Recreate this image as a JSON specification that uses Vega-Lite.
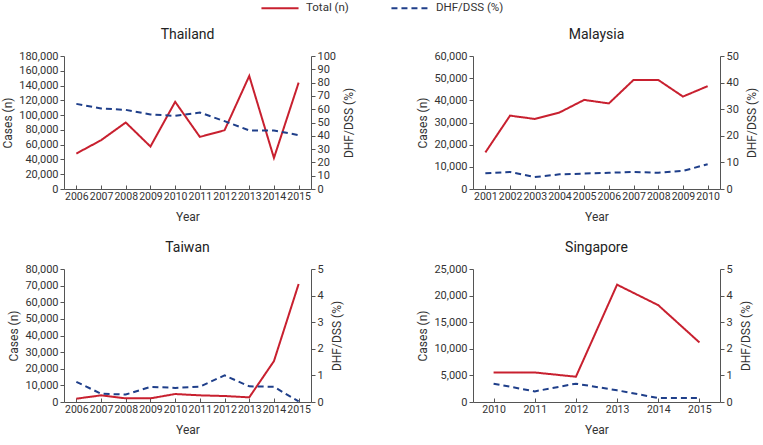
{
  "$schema": "https://vega.github.io/schema/vega-lite/v6.json",
  "background": "white",
  "padding": {"left": 1, "top": 2, "right": 2, "bottom": 2},
  "config": {
    "font": "Roboto",
    "view": {"stroke": null},
    "axis": {"grid": false, "domainColor": "#555", "tickColor": "#555", "labelColor": "#333", "titleColor": "#333", "labelFontSize": 10.5, "titleFontSize": 12, "titleFontWeight": "normal", "tickSize": 4},
    "axisLeft": {"titlePadding": 4, "labelFontSize": 11},
    "axisRight": {"labelFontSize": 11, "titlePadding": 8},
    "axisBottom": {"titlePadding": 10},
    "title": {"fontSize": 14, "fontWeight": "normal", "color": "#222", "offset": 8},
    "line": {"strokeWidth": 2}
  },
  "spacing": {"row": 18, "column": 61},
  "columns": 2,
  "datasets": {
    "d": [
      {"c": "Thailand", "year": 2006, "s": "Total (n)", "v": 48000},
      {"c": "Thailand", "year": 2007, "s": "Total (n)", "v": 66000},
      {"c": "Thailand", "year": 2008, "s": "Total (n)", "v": 90000},
      {"c": "Thailand", "year": 2009, "s": "Total (n)", "v": 57500},
      {"c": "Thailand", "year": 2010, "s": "Total (n)", "v": 118000},
      {"c": "Thailand", "year": 2011, "s": "Total (n)", "v": 70500},
      {"c": "Thailand", "year": 2012, "s": "Total (n)", "v": 79500},
      {"c": "Thailand", "year": 2013, "s": "Total (n)", "v": 153000},
      {"c": "Thailand", "year": 2014, "s": "Total (n)", "v": 42000},
      {"c": "Thailand", "year": 2015, "s": "Total (n)", "v": 144000},
      {"c": "Thailand", "year": 2006, "s": "DHF/DSS (%)", "v": 64},
      {"c": "Thailand", "year": 2007, "s": "DHF/DSS (%)", "v": 60.5},
      {"c": "Thailand", "year": 2008, "s": "DHF/DSS (%)", "v": 59.5},
      {"c": "Thailand", "year": 2009, "s": "DHF/DSS (%)", "v": 56},
      {"c": "Thailand", "year": 2010, "s": "DHF/DSS (%)", "v": 55},
      {"c": "Thailand", "year": 2011, "s": "DHF/DSS (%)", "v": 57.5},
      {"c": "Thailand", "year": 2012, "s": "DHF/DSS (%)", "v": 51},
      {"c": "Thailand", "year": 2013, "s": "DHF/DSS (%)", "v": 44},
      {"c": "Thailand", "year": 2014, "s": "DHF/DSS (%)", "v": 44},
      {"c": "Thailand", "year": 2015, "s": "DHF/DSS (%)", "v": 40.5},
      {"c": "Malaysia", "year": 2001, "s": "Total (n)", "v": 16500},
      {"c": "Malaysia", "year": 2002, "s": "Total (n)", "v": 33100},
      {"c": "Malaysia", "year": 2003, "s": "Total (n)", "v": 31600},
      {"c": "Malaysia", "year": 2004, "s": "Total (n)", "v": 34500},
      {"c": "Malaysia", "year": 2005, "s": "Total (n)", "v": 40200},
      {"c": "Malaysia", "year": 2006, "s": "Total (n)", "v": 38600},
      {"c": "Malaysia", "year": 2007, "s": "Total (n)", "v": 49200},
      {"c": "Malaysia", "year": 2008, "s": "Total (n)", "v": 49200},
      {"c": "Malaysia", "year": 2009, "s": "Total (n)", "v": 41700},
      {"c": "Malaysia", "year": 2010, "s": "Total (n)", "v": 46400},
      {"c": "Malaysia", "year": 2001, "s": "DHF/DSS (%)", "v": 5.9},
      {"c": "Malaysia", "year": 2002, "s": "DHF/DSS (%)", "v": 6.4},
      {"c": "Malaysia", "year": 2003, "s": "DHF/DSS (%)", "v": 4.5},
      {"c": "Malaysia", "year": 2004, "s": "DHF/DSS (%)", "v": 5.5},
      {"c": "Malaysia", "year": 2005, "s": "DHF/DSS (%)", "v": 5.8},
      {"c": "Malaysia", "year": 2006, "s": "DHF/DSS (%)", "v": 6.1},
      {"c": "Malaysia", "year": 2007, "s": "DHF/DSS (%)", "v": 6.4},
      {"c": "Malaysia", "year": 2008, "s": "DHF/DSS (%)", "v": 6.1},
      {"c": "Malaysia", "year": 2009, "s": "DHF/DSS (%)", "v": 6.8},
      {"c": "Malaysia", "year": 2010, "s": "DHF/DSS (%)", "v": 9.3},
      {"c": "Taiwan", "year": 2006, "s": "Total (n)", "v": 2000},
      {"c": "Taiwan", "year": 2007, "s": "Total (n)", "v": 4000},
      {"c": "Taiwan", "year": 2008, "s": "Total (n)", "v": 2200},
      {"c": "Taiwan", "year": 2009, "s": "Total (n)", "v": 2200},
      {"c": "Taiwan", "year": 2010, "s": "Total (n)", "v": 4800},
      {"c": "Taiwan", "year": 2011, "s": "Total (n)", "v": 4000},
      {"c": "Taiwan", "year": 2012, "s": "Total (n)", "v": 3600},
      {"c": "Taiwan", "year": 2013, "s": "Total (n)", "v": 2800},
      {"c": "Taiwan", "year": 2014, "s": "Total (n)", "v": 24600},
      {"c": "Taiwan", "year": 2015, "s": "Total (n)", "v": 71000},
      {"c": "Taiwan", "year": 2006, "s": "DHF/DSS (%)", "v": 0.76},
      {"c": "Taiwan", "year": 2007, "s": "DHF/DSS (%)", "v": 0.31},
      {"c": "Taiwan", "year": 2008, "s": "DHF/DSS (%)", "v": 0.28},
      {"c": "Taiwan", "year": 2009, "s": "DHF/DSS (%)", "v": 0.57},
      {"c": "Taiwan", "year": 2010, "s": "DHF/DSS (%)", "v": 0.53},
      {"c": "Taiwan", "year": 2011, "s": "DHF/DSS (%)", "v": 0.58},
      {"c": "Taiwan", "year": 2012, "s": "DHF/DSS (%)", "v": 1.0},
      {"c": "Taiwan", "year": 2013, "s": "DHF/DSS (%)", "v": 0.59},
      {"c": "Taiwan", "year": 2014, "s": "DHF/DSS (%)", "v": 0.57},
      {"c": "Taiwan", "year": 2015, "s": "DHF/DSS (%)", "v": 0.02},
      {"c": "Singapore", "year": 2010, "s": "Total (n)", "v": 5550},
      {"c": "Singapore", "year": 2011, "s": "Total (n)", "v": 5550},
      {"c": "Singapore", "year": 2012, "s": "Total (n)", "v": 4750},
      {"c": "Singapore", "year": 2013, "s": "Total (n)", "v": 22050},
      {"c": "Singapore", "year": 2014, "s": "Total (n)", "v": 18200},
      {"c": "Singapore", "year": 2015, "s": "Total (n)", "v": 11200},
      {"c": "Singapore", "year": 2010, "s": "DHF/DSS (%)", "v": 0.69},
      {"c": "Singapore", "year": 2011, "s": "DHF/DSS (%)", "v": 0.4},
      {"c": "Singapore", "year": 2012, "s": "DHF/DSS (%)", "v": 0.69},
      {"c": "Singapore", "year": 2013, "s": "DHF/DSS (%)", "v": 0.44},
      {"c": "Singapore", "year": 2014, "s": "DHF/DSS (%)", "v": 0.15},
      {"c": "Singapore", "year": 2015, "s": "DHF/DSS (%)", "v": 0.15}
    ]
  },
  "data": {"name": "d"},
  "concat": [
    {
      "title": "Thailand",
      "width": 247, "height": 133,
      "transform": [{"filter": "datum.c == 'Thailand'"}],
      "encoding": {"x": {"field": "year", "type": "ordinal", "scale": {"type": "point", "padding": 0.5}, "axis": {"title": "Year", "labelAngle": 0, "tickSize": -4, "labelPadding": 6}}},
      "layer": [
        {"transform": [{"filter": "datum.s == 'Total (n)'"}], "mark": {"type": "line"}, "encoding": {
          "y": {"field": "v", "type": "quantitative", "scale": {"domain": [0, 180000]}, "axis": {"title": "Cases (n)", "values": [0,20000,40000,60000,80000,100000,120000,140000,160000,180000], "format": ",d"}},
          "color": {"field": "s", "type": "nominal", "scale": {"domain": ["Total (n)", "DHF/DSS (%)"], "range": ["#c8202f", "#1f3f8a"]}, "legend": {"title": null, "orient": "none", "legendX": 210, "legendY": -54, "direction": "horizontal", "symbolType": "M-4,0H4", "symbolSize": 86, "symbolStrokeWidth": 2, "labelOffset": 20, "labelFontSize": 11.5, "labelColor": "#333", "columnPadding": 38}},
          "strokeDash": {"field": "s", "type": "nominal", "scale": {"domain": ["Total (n)", "DHF/DSS (%)"], "range": [[1, 0], [6, 4]]}, "legend": {"title": null, "orient": "none", "legendX": 210, "legendY": -54, "direction": "horizontal", "symbolType": "M-4,0H4", "symbolSize": 86, "symbolStrokeWidth": 2, "labelOffset": 20, "labelFontSize": 11.5, "labelColor": "#333", "columnPadding": 38}}
        }},
        {"transform": [{"filter": "datum.s == 'DHF/DSS (%)'"}], "mark": {"type": "line"}, "encoding": {
          "y": {"field": "v", "type": "quantitative", "scale": {"domain": [0, 100]}, "axis": {"title": "DHF/DSS (%)", "orient": "right", "titleAngle": 270, "titleBaseline": "top", "values": [0,10,20,30,40,50,60,70,80,90,100]}},
          "color": {"field": "s", "type": "nominal"},
          "strokeDash": {"field": "s", "type": "nominal"}
        }}
      ],
      "resolve": {"scale": {"y": "independent"}}
    },
    {
      "title": "Malaysia",
      "width": 247, "height": 133,
      "transform": [{"filter": "datum.c == 'Malaysia'"}],
      "encoding": {"x": {"field": "year", "type": "ordinal", "scale": {"type": "point", "padding": 0.5}, "axis": {"title": "Year", "labelAngle": 0, "tickSize": -4, "labelPadding": 6}}},
      "layer": [
        {"transform": [{"filter": "datum.s == 'Total (n)'"}], "mark": {"type": "line"}, "encoding": {
          "y": {"field": "v", "type": "quantitative", "scale": {"domain": [0, 60000]}, "axis": {"title": "Cases (n)", "values": [0,10000,20000,30000,40000,50000,60000], "format": ",d"}},
          "color": {"field": "s", "type": "nominal"},
          "strokeDash": {"field": "s", "type": "nominal"}
        }},
        {"transform": [{"filter": "datum.s == 'DHF/DSS (%)'"}], "mark": {"type": "line"}, "encoding": {
          "y": {"field": "v", "type": "quantitative", "scale": {"domain": [0, 50]}, "axis": {"title": "DHF/DSS (%)", "orient": "right", "titleAngle": 270, "titleBaseline": "top", "values": [0,10,20,30,40,50]}},
          "color": {"field": "s", "type": "nominal"},
          "strokeDash": {"field": "s", "type": "nominal"}
        }}
      ],
      "resolve": {"scale": {"y": "independent"}}
    },
    {
      "title": "Taiwan",
      "width": 247, "height": 133,
      "transform": [{"filter": "datum.c == 'Taiwan'"}],
      "encoding": {"x": {"field": "year", "type": "ordinal", "scale": {"type": "point", "padding": 0.5}, "axis": {"title": "Year", "labelAngle": 0, "tickSize": -4, "labelPadding": 6}}},
      "layer": [
        {"transform": [{"filter": "datum.s == 'Total (n)'"}], "mark": {"type": "line"}, "encoding": {
          "y": {"field": "v", "type": "quantitative", "scale": {"domain": [0, 80000]}, "axis": {"title": "Cases (n)", "values": [0,10000,20000,30000,40000,50000,60000,70000,80000], "format": ",d"}},
          "color": {"field": "s", "type": "nominal"},
          "strokeDash": {"field": "s", "type": "nominal"}
        }},
        {"transform": [{"filter": "datum.s == 'DHF/DSS (%)'"}], "mark": {"type": "line"}, "encoding": {
          "y": {"field": "v", "type": "quantitative", "scale": {"domain": [0, 5]}, "axis": {"title": "DHF/DSS (%)", "orient": "right", "titleAngle": 270, "titleBaseline": "top", "values": [0,1,2,3,4,5]}},
          "color": {"field": "s", "type": "nominal"},
          "strokeDash": {"field": "s", "type": "nominal"}
        }}
      ],
      "resolve": {"scale": {"y": "independent"}}
    },
    {
      "title": "Singapore",
      "width": 247, "height": 133,
      "transform": [{"filter": "datum.c == 'Singapore'"}],
      "encoding": {"x": {"field": "year", "type": "ordinal", "scale": {"type": "point", "padding": 0.5}, "axis": {"title": "Year", "labelAngle": 0, "tickSize": -4, "labelPadding": 6}}},
      "layer": [
        {"transform": [{"filter": "datum.s == 'Total (n)'"}], "mark": {"type": "line"}, "encoding": {
          "y": {"field": "v", "type": "quantitative", "scale": {"domain": [0, 25000]}, "axis": {"title": "Cases (n)", "values": [0,5000,10000,15000,20000,25000], "format": ",d"}},
          "color": {"field": "s", "type": "nominal"},
          "strokeDash": {"field": "s", "type": "nominal"}
        }},
        {"transform": [{"filter": "datum.s == 'DHF/DSS (%)'"}], "mark": {"type": "line"}, "encoding": {
          "y": {"field": "v", "type": "quantitative", "scale": {"domain": [0, 5]}, "axis": {"title": "DHF/DSS (%)", "orient": "right", "titleAngle": 270, "titleBaseline": "top", "values": [0,1,2,3,4,5]}},
          "color": {"field": "s", "type": "nominal"},
          "strokeDash": {"field": "s", "type": "nominal"}
        }}
      ],
      "resolve": {"scale": {"y": "independent"}}
    }
  ]
}
